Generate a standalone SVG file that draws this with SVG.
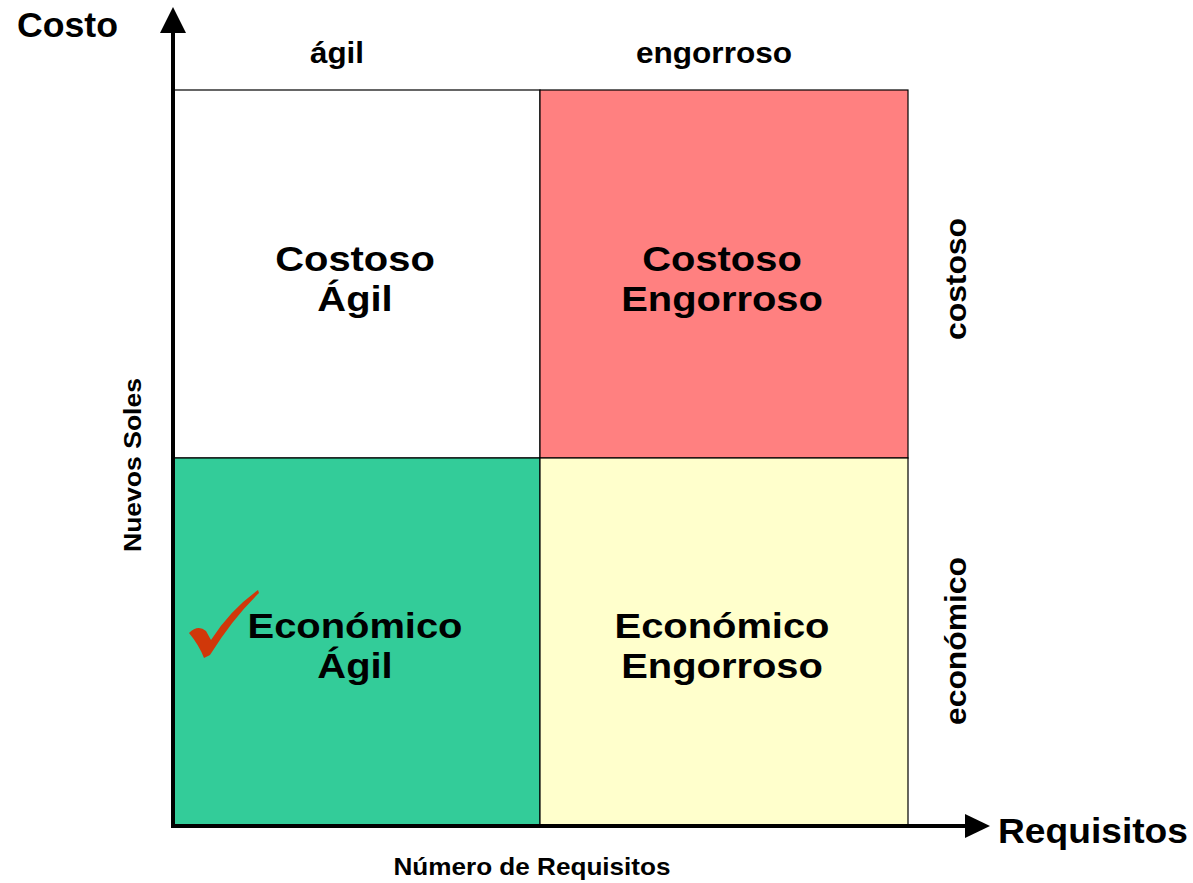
<svg xmlns="http://www.w3.org/2000/svg" width="1193" height="883" viewBox="0 0 1193 883">
<style>
text{font-family:"Liberation Sans",Arial,sans-serif;font-weight:bold;fill:#000}
.q{font-size:35px;text-anchor:middle}
.lab{font-size:29px;text-anchor:middle}
.big{font-size:35px}
.small{font-size:24px;text-anchor:middle}
.cell{stroke:#000;stroke-width:1.2}
</style>
<rect width="1193" height="883" fill="#fff"/>
<g id="q-costoso-agil">
<rect class="cell" x="173" y="90" width="367" height="368" fill="#fff"/>
<g transform="translate(355,0) scale(1.14,1)">
<text class="q" x="0" y="271">Costoso</text>
<text class="q" x="0" y="311">Ágil</text>
</g>
</g>
<g id="q-costoso-engorroso">
<rect class="cell" x="540" y="90" width="368" height="368" fill="#FF8080"/>
<g transform="translate(722,0) scale(1.14,1)">
<text class="q" x="0" y="271">Costoso</text>
<text class="q" x="0" y="311">Engorroso</text>
</g>
</g>
<g id="q-economico-agil">
<rect class="cell" x="173" y="458" width="367" height="368" fill="#33CC99"/>
<g transform="translate(355,0) scale(1.14,1)">
<text class="q" x="0" y="638">Económico</text>
<text class="q" x="0" y="678">Ágil</text>
</g>
<path d="M189,633 Q198,624 206,631 L211,640 Q230,610 258,590 L259,593 Q233,618 210,655 L204,658 Q199,645 189,633 Z" fill="#D0380A"/>
</g>
<g id="q-economico-engorroso">
<rect class="cell" x="540" y="458" width="368" height="368" fill="#FFFFCC"/>
<g transform="translate(722,0) scale(1.14,1)">
<text class="q" x="0" y="638">Económico</text>
<text class="q" x="0" y="678">Engorroso</text>
</g>
</g>
<g id="connectors">
<line x1="173" y1="30" x2="173" y2="828" stroke="#000" stroke-width="4"/>
<polygon points="173,7 186,33 160,33" fill="#000"/>
<line x1="171" y1="826" x2="968" y2="826" stroke="#000" stroke-width="4"/>
<polygon points="990,826 965,814 965,838" fill="#000"/>
</g>
<g id="labels">
<text class="big" x="17" y="37" textLength="101" lengthAdjust="spacingAndGlyphs">Costo</text>
<text class="big" x="998" y="843" textLength="190" lengthAdjust="spacingAndGlyphs">Requisitos</text>
<text class="lab" x="337" y="63" textLength="54" lengthAdjust="spacingAndGlyphs">ágil</text>
<text class="lab" x="714" y="63" textLength="156" lengthAdjust="spacingAndGlyphs">engorroso</text>
<text class="lab" transform="translate(966,279) rotate(-90)" textLength="122" lengthAdjust="spacingAndGlyphs">costoso</text>
<text class="lab" transform="translate(966,641) rotate(-90)" textLength="168" lengthAdjust="spacingAndGlyphs">económico</text>
<text class="small" transform="translate(141,465) rotate(-90)" textLength="174" lengthAdjust="spacingAndGlyphs">Nuevos Soles</text>
<text class="small" x="532" y="875" textLength="277" lengthAdjust="spacingAndGlyphs">Número de Requisitos</text>
</g>
</svg>
